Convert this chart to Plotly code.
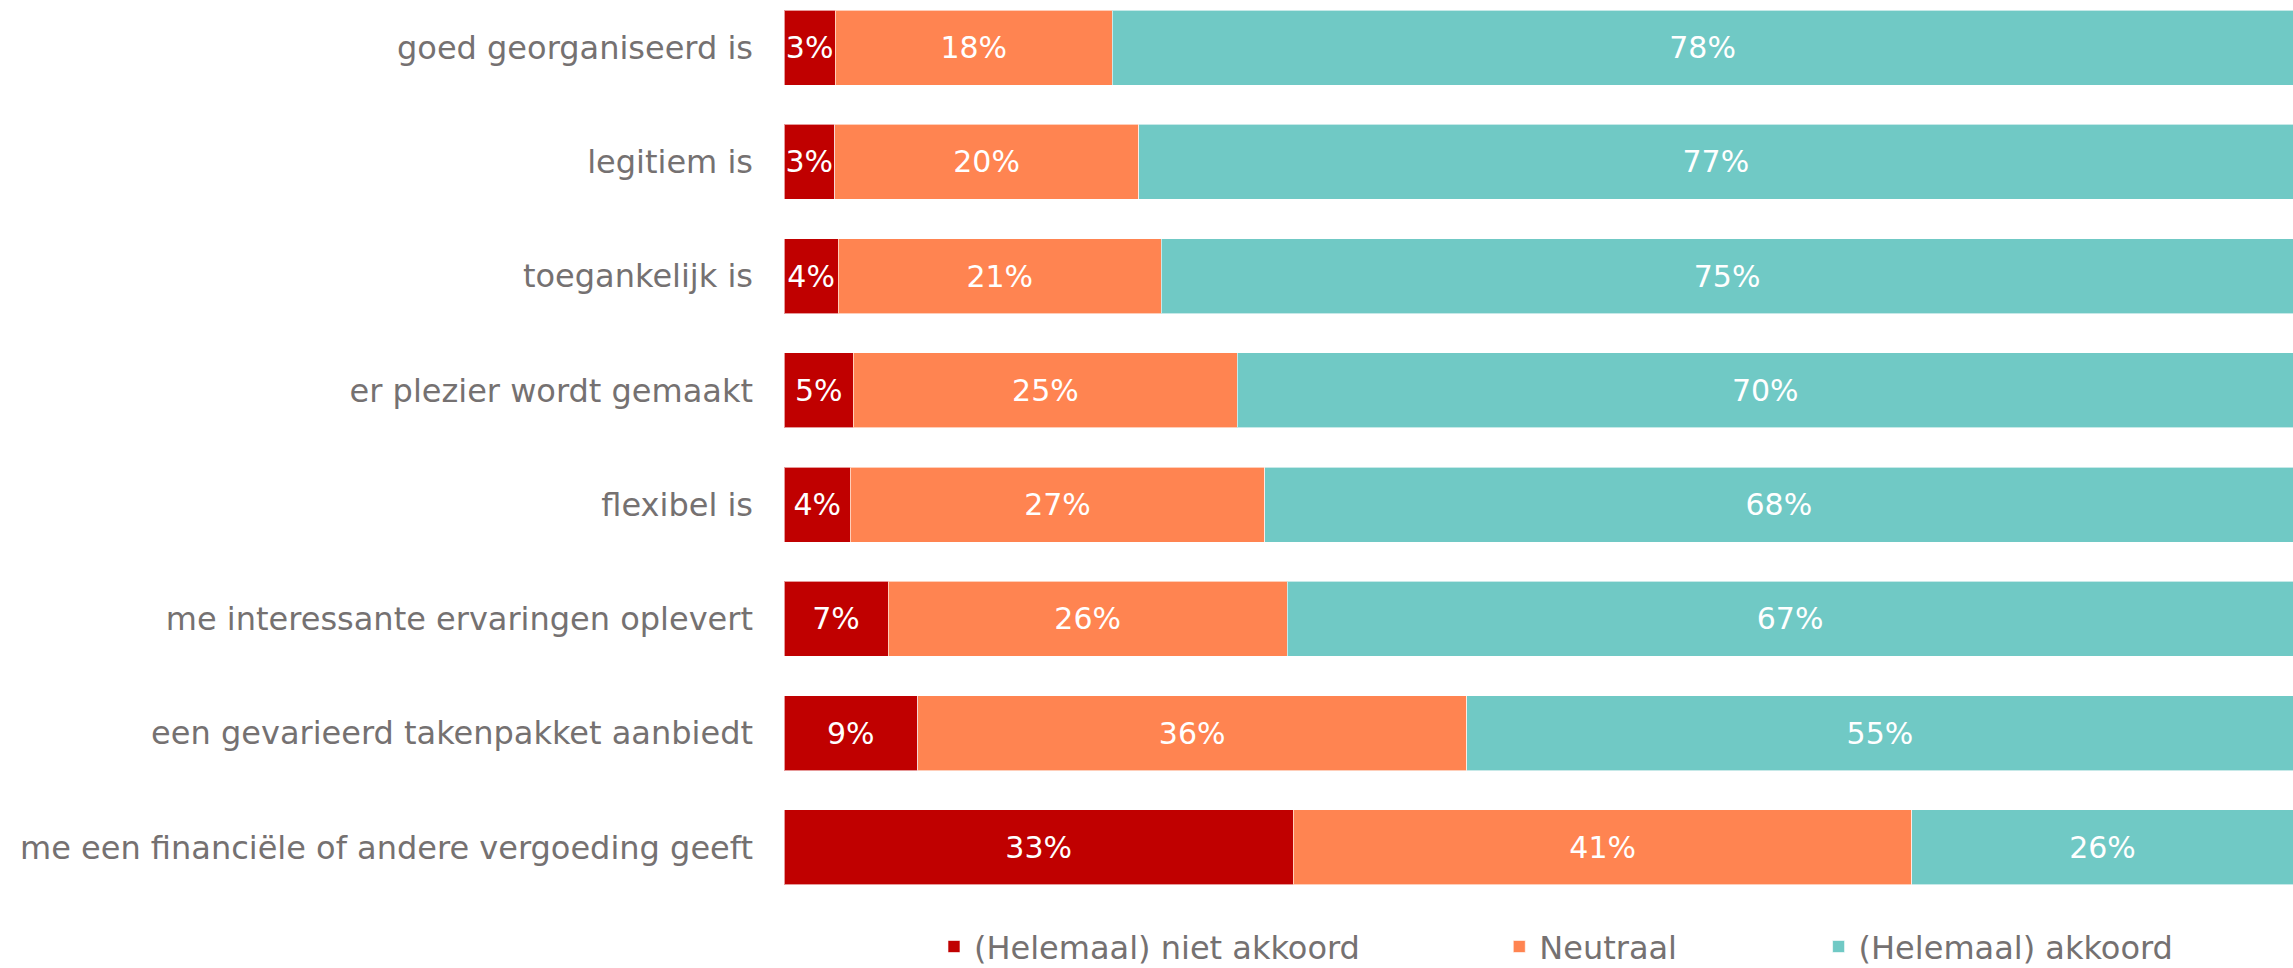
import plotly.graph_objects as go

categories = [
    "goed georganiseerd is",
    "legitiem is",
    "toegankelijk is",
    "er plezier wordt gemaakt",
    "flexibel is",
    "me interessante ervaringen oplevert",
    "een gevarieerd takenpakket aanbiedt",
    "me een financiële of andere vergoeding geeft",
]

series_names = ["(Helemaal) niet akkoord", "Neutraal", "(Helemaal) akkoord"]

niet_akkoord = [3.4, 3.35, 3.6, 4.6, 4.4, 6.9, 8.85, 33.75]
neutraal = [18.35, 20.15, 21.4, 25.45, 27.45, 26.45, 36.4, 41.0]
akkoord = [78.25, 76.5, 75.0, 69.95, 68.15, 66.65, 54.75, 25.25]

niet_akkoord_labels = [3, 3, 4, 5, 4, 7, 9, 33]
neutraal_labels = [18, 20, 21, 25, 27, 26, 36, 41]
akkoord_labels = [78, 77, 75, 70, 68, 67, 55, 26]

colors = ["#C00000", "#FF8451", "#70C9C5"]

FONT = "DejaVu Sans"
GRAY = "#757171"
FS = 32
FS_BAR = 30

W, H = 2293, 968
ML, MR, MT, MB = 784, 0, 0, 64

fig = go.Figure()
data = [
    (niet_akkoord, niet_akkoord_labels),
    (neutraal, neutraal_labels),
    (akkoord, akkoord_labels),
]
legend_ids = ["legend", "legend2", "legend3"]
for i, (vals, labs) in enumerate(data):
    fig.add_trace(go.Bar(
        y=categories,
        x=vals,
        orientation="h",
        name=series_names[i],
        marker=dict(color=colors[i], line=dict(color="rgba(255,255,255,0.6)", width=1)),
        text=[f"{v}%" for v in labs],
        textposition="inside",
        insidetextanchor="middle",
        textangle=0,
        textfont=dict(color="white", size=FS_BAR, family=FONT),
        cliponaxis=False,
        legend=legend_ids[i],
        hoverinfo="skip",
    ))

legend_common = dict(
    orientation="h",
    font=dict(family=FONT, size=FS, color=GRAY),
    bgcolor="rgba(0,0,0,0)",
    borderwidth=0,
    yref="container",
    yanchor="middle",
    xanchor="left",
    y=0.022,
)
fig.update_layout(
    width=W,
    height=H,
    margin=dict(l=ML, r=MR, t=MT, b=MB, pad=0),
    barmode="stack",
    bargap=0.342,
    plot_bgcolor="white",
    paper_bgcolor="white",
    font=dict(family=FONT, size=FS, color=GRAY),
    uniformtext=dict(minsize=FS_BAR, mode="show"),
    showlegend=True,
    legend=dict(**legend_common, x=0.0994),
    legend2=dict(**legend_common, x=0.474),
    legend3=dict(**legend_common, x=0.6856),
    xaxis=dict(range=[0, 100], visible=False, fixedrange=True),
    yaxis=dict(
        range=[7.496, -0.417],
        showgrid=False,
        zeroline=False,
        showline=False,
        ticks="",
        ticklabelstandoff=30,
        tickfont=dict(family=FONT, size=FS, color=GRAY),
        fixedrange=True,
    ),
)

fig.write_html(
    "out.html",
    config={"displayModeBar": False},
    post_script="document.body.style.margin='0';document.body.style.overflow='hidden';",
)
